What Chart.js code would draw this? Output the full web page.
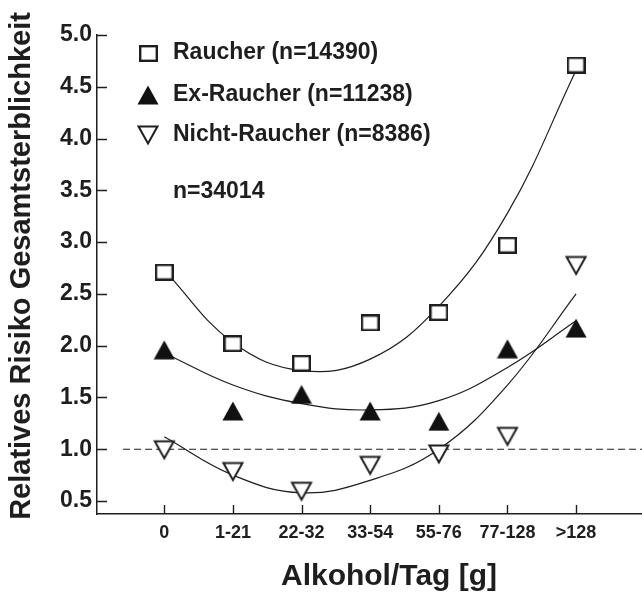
<!DOCTYPE html>
<html>
<head>
<meta charset="utf-8">
<script src="https://cdn.jsdelivr.net/npm/chart.js@4.4.0/dist/chart.umd.min.js"></script>
<style>
  html, body { margin: 0; padding: 0; background: #fff; }
  canvas { display: block; }
</style>
</head>
<body>
<canvas id="chart" width="642" height="593"></canvas>
<script>
// Relatives Risiko vs. Alkohol/Tag, drei Raucher-Gruppen

const categories = ["0", "1-21", "22-32", "33-54", "55-76", "77-128", ">128"];

// measured points
const raucher      = [2.71, 2.02, 1.83, 2.22, 2.32, 2.97, 4.71];
const exRaucher    = [1.96, 1.37, 1.53, 1.37, 1.27, 1.97, 2.17];
const nichtRaucher = [0.99, 0.78, 0.59, 0.84, 0.95, 1.12, 2.77];

// fitted curves at each category
const raucherFit      = [2.73, 2.03, 1.76, 1.87, 2.38, 3.28, 4.66];
const exRaucherFit    = [1.93, 1.62, 1.44, 1.38, 1.47, 1.79, 2.24];
const nichtRaucherFit = [1.12, 0.75, 0.58, 0.70, 1.00, 1.62, 2.50];

const seriesNames = ["Raucher (n=14390)", "Ex-Raucher (n=11238)", "Nicht-Raucher (n=8386)"];
const totalLabel = "n=34014";
const yTicks = [0.5, 1.0, 1.5, 2.0, 2.5, 3.0, 3.5, 4.0, 4.5, 5.0];
const refLevel = 1.0;
const refFrom = -0.6;
const xTitle = "Alkohol/Tag [g]";
const yTitle = "Relatives Risiko Gesamtsterblichkeit";

const INK = "#1e1e1e";
const FONT = '"Liberation Sans", Arial, Helvetica, sans-serif';

/* ---------- marker images ---------- */

function makeMarker(kind) {
    const c = document.createElement("canvas");
    const ctx = c.getContext("2d");
    if (kind === "square") {
        c.width = 19; c.height = 17;
        ctx.fillStyle = "#fff";
        ctx.fillRect(1, 1, 17, 15);
        ctx.strokeStyle = INK;
        ctx.lineWidth = 2.4;
        ctx.strokeRect(1.2, 1.2, 16.6, 14.6);
    } else if (kind === "triUp") {
        c.width = 22; c.height = 20;
        ctx.fillStyle = "#111";
        ctx.beginPath();
        ctx.moveTo(11, 0.5);
        ctx.lineTo(21.5, 19.5);
        ctx.lineTo(0.5, 19.5);
        ctx.closePath();
        ctx.fill();
    } else {
        c.width = 24; c.height = 23;
        ctx.fillStyle = "#fff";
        ctx.strokeStyle = INK;
        ctx.lineWidth = 2;
        ctx.beginPath();
        ctx.moveTo(2.5, 2.5);
        ctx.lineTo(21.5, 2.5);
        ctx.lineTo(12, 19.5);
        ctx.closePath();
        ctx.fill();
        ctx.stroke();
    }
    return c;
}

const markers = [makeMarker("square"), makeMarker("triUp"), makeMarker("triDown")];

function toPoints(values) {
    return values.map((v, i) => ({ x: i, y: v }));
}

function pointSet(values, marker) {
    return {
        data: toPoints(values),
        showLine: false,
        pointStyle: marker,
        pointRadius: 10,
        pointHoverRadius: 10
    };
}

function curveSet(values) {
    return {
        data: toPoints(values),
        borderColor: INK,
        borderWidth: 1.2,
        pointRadius: 0,
        tension: 0.4,
        fill: false
    };
}

/* ---------- plugins ---------- */

const tickMarks = {
    id: "tickMarks",
    afterDraw(chart) {
        const { ctx, scales: { x, y }, chartArea } = chart;
        ctx.save();
        ctx.strokeStyle = INK;
        ctx.lineWidth = 1.4;
        ctx.beginPath();
        yTicks.forEach(v => {
            const py = Math.round(y.getPixelForValue(v)) + 0.5;
            ctx.moveTo(chartArea.left, py);
            ctx.lineTo(chartArea.left + 10, py);
        });
        categories.forEach((c, i) => {
            const px = Math.round(x.getPixelForValue(i)) + 0.5;
            ctx.moveTo(px, chartArea.bottom);
            ctx.lineTo(px, chartArea.bottom - 9);
        });
        ctx.stroke();
        ctx.restore();
    }
};

const texts = {
    id: "texts",
    afterDraw(chart) {
        const ctx = chart.ctx;
        ctx.save();
        ctx.fillStyle = INK;

        // legend
        const rowY = [53, 95, 135];
        ctx.font = "bold 23px " + FONT;
        ctx.textBaseline = "middle";
        ctx.textAlign = "left";
        seriesNames.forEach((name, i) => {
            const m = markers[i];
            ctx.drawImage(m, Math.round(148 - m.width / 2), Math.round(rowY[i] - m.height / 2));
            ctx.fillText(name, 173, rowY[i]);
        });
        ctx.fillText(totalLabel, 173, 192);

        // axis titles
        ctx.textAlign = "center";
        ctx.font = "bold 30px " + FONT;
        ctx.fillText(xTitle, 389, 577);

        ctx.translate(22, 266);
        ctx.rotate(-Math.PI / 2);
        ctx.font = "bold 29px " + FONT;
        ctx.fillText(yTitle, 0, 0);
        ctx.restore();
    }
};

/* ---------- chart ---------- */

new Chart(document.getElementById("chart"), {
    type: "line",
    data: {
        datasets: [
            pointSet(raucher, markers[0]),
            pointSet(exRaucher, markers[1]),
            pointSet(nichtRaucher, markers[2]),
            curveSet(raucherFit),
            curveSet(exRaucherFit),
            curveSet(nichtRaucherFit),
            {
                data: [{ x: refFrom, y: refLevel }, { x: 6.96, y: refLevel }],
                borderColor: INK,
                borderWidth: 1.2,
                borderDash: [7, 4],
                pointRadius: 0
            }
        ]
    },
    options: {
        responsive: false,
        animation: false,
        devicePixelRatio: 1,
        events: [],
        layout: { autoPadding: false, padding: { top: 35, right: 0, left: 0, bottom: 0 } },
        plugins: {
            legend: { display: false },
            tooltip: { enabled: false }
        },
        scales: {
            x: {
                type: "linear",
                min: -0.98,
                max: 6.96,
                afterBuildTicks: s => { s.ticks = categories.map((c, i) => ({ value: i })); },
                afterFit: s => { s.height = 79; s.paddingLeft = 0; s.paddingRight = 0; },
                grid: { display: false, drawTicks: false },
                border: { display: true, color: INK, width: 1.5 },
                ticks: {
                    padding: 8,
                    autoSkip: false,
                    maxRotation: 0,
                    color: INK,
                    font: { family: FONT, size: 18, weight: "bold" },
                    callback: v => categories[v] ?? ""
                }
            },
            y: {
                type: "linear",
                min: 0.375,
                max: 5.0,
                afterBuildTicks: s => { s.ticks = yTicks.map(v => ({ value: v })); },
                afterFit: s => { s.width = 97; s.paddingTop = 0; s.paddingBottom = 0; },
                grid: { display: false, drawTicks: false },
                border: { display: true, color: INK, width: 1.5 },
                ticks: {
                    padding: 5,
                    color: INK,
                    font: { family: FONT, size: 23, weight: "bold" },
                    callback: v => v.toFixed(1)
                }
            }
        }
    },
    plugins: [tickMarks, texts]
});
</script>
</body>
</html>
